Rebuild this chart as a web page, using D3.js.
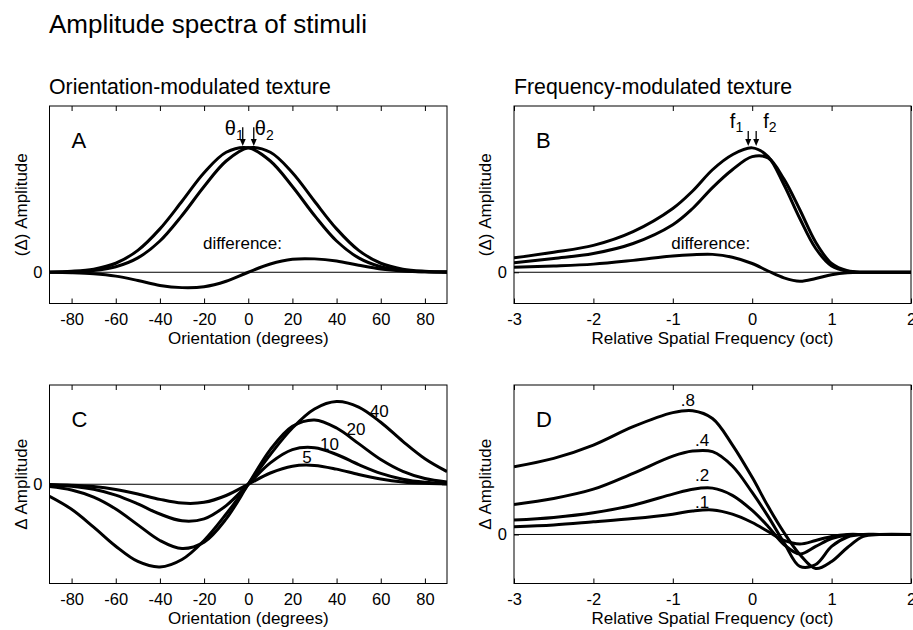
<!DOCTYPE html>
<html>
<head>
<meta charset="utf-8">
<script src="https://cdn.jsdelivr.net/npm/d3@7"></script>
<style>
  html, body { margin: 0; padding: 0; background: #fff; }
  svg { display: block; font-family: "Liberation Sans", Arial, Helvetica, sans-serif; }
  .domain { display: none; }
</style>
</head>
<body>
<svg id="chart" width="913" height="630"></svg>
<script>
// ---------------- DATA ----------------
// Panel A: orientation spectra (two stimuli) and their difference
const orientX = [-90,-80,-70,-60,-50,-40,-30,-20,-10,0,10,20,30,40,50,60,70,80,90];
const thetaCurve1 = [0.002,0.008,0.025,0.072,0.175,0.347,0.568,0.796,0.960,0.996,0.890,0.686,0.454,0.250,0.115,0.044,0.014,0.004,0.001];
const thetaCurve2 = [0.001,0.004,0.014,0.044,0.115,0.250,0.454,0.686,0.890,0.996,0.960,0.796,0.568,0.347,0.175,0.072,0.025,0.008,0.002];
const thetaDiff   = [-0.001,-0.004,-0.012,-0.031,-0.066,-0.106,-0.123,-0.116,-0.072,0,0.066,0.104,0.107,0.090,0.056,0.026,0.010,0.003,0.001];
const thetaMarks  = [-2.5, 2.5];

// Panel B: spatial-frequency spectra and their difference
const freqX = [-3,-2.5,-2,-1.5,-1,-0.75,-0.5,-0.25,0,0.2,0.4,0.6,0.8,1.0,1.2,1.4,1.6,2];
const freqCurve1 = [0.115,0.160,0.215,0.325,0.510,0.650,0.820,0.940,0.995,0.925,0.700,0.430,0.190,0.050,0.008,0,0,0];
const freqCurve2 = [0.075,0.110,0.150,0.230,0.380,0.510,0.677,0.820,0.925,0.915,0.745,0.500,0.240,0.070,0.012,0,0,0];
const freqDiff   = [0.040,0.050,0.065,0.095,0.130,0.140,0.143,0.120,0.070,0.010,-0.045,-0.072,-0.050,-0.020,-0.004,0,0,0];
const freqMarks  = [-0.05, 0.05];

// Panel C: orientation difference spectra for several orientation differences
const orientDiffLabels = ["5","10","20","40"];
const orientDiff5  = [-0.004,-0.011,-0.028,-0.063,-0.117,-0.181,-0.226,-0.217,-0.135,0,0.135,0.217,0.226,0.181,0.117,0.063,0.028,0.011,0.004];
const orientDiff10 = [-0.008,-0.024,-0.061,-0.131,-0.236,-0.357,-0.438,-0.415,-0.256,0,0.256,0.415,0.438,0.357,0.236,0.131,0.061,0.024,0.008];
const orientDiff20 = [-0.027,-0.069,-0.155,-0.297,-0.487,-0.674,-0.771,-0.694,-0.415,0,0.415,0.694,0.771,0.674,0.487,0.297,0.155,0.069,0.027];
const orientDiff40 = [-0.145,-0.300,-0.514,-0.743,-0.926,-0.991,-0.902,-0.674,-0.357,0,0.357,0.674,0.902,0.991,0.926,0.743,0.514,0.306,0.152];

// Panel D: frequency difference spectra for several frequency differences (oct)
const freqDiffLabels = [".1",".2",".4",".8"];
const freqDiff01 = [0.052,0.064,0.085,0.107,0.136,0.157,0.164,0.136,0.080,0.020,-0.040,-0.064,-0.040,-0.013,0,0,0,0];
const freqDiff02 = [0.096,0.114,0.145,0.196,0.270,0.303,0.310,0.262,0.161,0.054,-0.067,-0.131,-0.080,-0.027,-0.003,0,0,0];
const freqDiff04 = [0.201,0.241,0.303,0.409,0.524,0.558,0.554,0.458,0.281,0.121,-0.054,-0.214,-0.201,-0.080,-0.017,0,0,0];
const freqDiff08 = [0.453,0.509,0.598,0.721,0.815,0.828,0.776,0.600,0.382,0.188,0.013,-0.134,-0.228,-0.181,-0.087,-0.013,0,0];

// Ticks and texts
const orientTicks = [-80,-60,-40,-20,0,20,40,60,80];
const freqTicks = [-3,-2,-1,0,1,2];
const mainTitle = "Amplitude spectra of stimuli";
const colTitles = ["Orientation-modulated texture","Frequency-modulated texture"];
const xLabels = ["Orientation (degrees)","Relative Spatial Frequency (oct)"];
const yLabelsTop = "(\u0394) Amplitude";
const yLabelsBottom = "\u0394 Amplitude";

// ---------------- DRAWING ----------------
const svg = d3.select("#chart");
svg.append("rect").attr("width",913).attr("height",630).attr("fill","#fff");

const FS_TICK = 16.5, FS_LABEL = 17;
const fmt = d => String(d);   // plain hyphen-minus like the reference

svg.append("text").attr("x",49).attr("y",33).attr("font-size",26).text(mainTitle);
svg.append("text").attr("x",49).attr("y",94).attr("font-size",21.3).text(colTitles[0]);
svg.append("text").attr("x",514).attr("y",94).attr("font-size",21.3).text(colTitles[1]);

let clipId = 0;
function panel(box, xDomain, yDomain, xTicks, xLabel, yLabel, letter) {
  const x = d3.scaleLinear().domain(xDomain).range([box.x0, box.x1]);
  const y = d3.scaleLinear().domain(yDomain).range([box.y1, box.y0]);
  const g = svg.append("g");
  const id = "clip" + (clipId++);
  svg.append("clipPath").attr("id", id).append("rect")
    .attr("x", box.x0).attr("y", box.y0).attr("width", box.x1 - box.x0).attr("height", box.y1 - box.y0);

  // zero line
  g.append("line").attr("x1", box.x0).attr("x2", box.x1).attr("y1", y(0)).attr("y2", y(0))
    .attr("stroke","#000").attr("stroke-width",1);

  // bottom axis (ticks inward)
  const ax = g.append("g").attr("transform", `translate(0,${box.y1})`)
    .call(d3.axisBottom(x).tickValues(xTicks).tickSizeInner(-5).tickSizeOuter(0).tickPadding(10).tickFormat(fmt));
  ax.selectAll("text").attr("font-size", FS_TICK).attr("font-family","Liberation Sans, Arial, sans-serif").attr("fill","#000");
  ax.selectAll("line").attr("stroke","#000");
  // top axis ticks
  const at = g.append("g").attr("transform", `translate(0,${box.y0})`)
    .call(d3.axisTop(x).tickValues(xTicks).tickSizeInner(-5).tickSizeOuter(0).tickFormat(""));
  at.selectAll("line").attr("stroke","#000");
  // y ticks at zero (left / right)
  const al = g.append("g").attr("transform", `translate(${box.x0},0)`)
    .call(d3.axisLeft(y).tickValues([0]).tickSizeInner(-5).tickSizeOuter(0).tickPadding(7).tickFormat(fmt));
  al.selectAll("text").attr("font-size", FS_TICK).attr("font-family","Liberation Sans, Arial, sans-serif").attr("fill","#000");
  al.selectAll("line").attr("stroke","#000");
  const ar = g.append("g").attr("transform", `translate(${box.x1},0)`)
    .call(d3.axisRight(y).tickValues([0]).tickSizeInner(-5).tickSizeOuter(0).tickFormat(""));
  ar.selectAll("line").attr("stroke","#000");

  // box
  g.append("rect").attr("x", box.x0).attr("y", box.y0)
    .attr("width", box.x1 - box.x0).attr("height", box.y1 - box.y0)
    .attr("fill","none").attr("stroke","#000").attr("stroke-width",1);

  // axis labels
  g.append("text").attr("x", (box.x0 + box.x1) / 2).attr("y", box.y1 + 40)
    .attr("text-anchor","middle").attr("font-size", FS_LABEL).text(xLabel);
  g.append("text").attr("transform", `translate(${box.x0 - 23},${(box.y0 + box.y1) / 2}) rotate(-90)`)
    .attr("text-anchor","middle").attr("font-size", FS_LABEL).text(yLabel);

  // panel letter
  g.append("text").attr("x", box.x0 + 22).attr("y", box.y0 + 41.5).attr("font-size", 22).text(letter);

  const plot = svg.append("g").attr("clip-path", `url(#${id})`);
  return {x, y, g, plot};
}

function drawCurve(p, xs, ys) {
  const line = d3.line().x((d, i) => p.x(xs[i])).y(d => p.y(d)).curve(d3.curveCatmullRom.alpha(0.5));
  p.plot.append("path").datum(ys).attr("d", line)
    .attr("fill","none").attr("stroke","#000").attr("stroke-width",3).attr("stroke-linejoin","round");
}

function arrow(p, xv, yTop, yTip) {
  const xp = p.x(xv), y1 = p.y(yTop), y2 = p.y(yTip);
  p.g.append("line").attr("x1", xp).attr("x2", xp).attr("y1", y1).attr("y2", y2 - 5)
    .attr("stroke","#000").attr("stroke-width",1.3);
  p.g.append("path").attr("d", `M${xp - 3},${y2 - 7} L${xp + 3},${y2 - 7} L${xp},${y2} Z`).attr("fill","#000");
}

const boxA = {x0:49.5, x1:447, y0:106, y1:303.5};
const boxB = {x0:514, x1:911, y0:106, y1:303.5};
const boxC = {x0:49.5, x1:447, y0:385, y1:583.5};
const boxD = {x0:514, x1:911, y0:385, y1:583.5};

// Panel A
const pA = panel(boxA, [-90, 90], [-0.25, 1.33], orientTicks, xLabels[0], yLabelsTop, "A");
drawCurve(pA, orientX, thetaCurve1);
drawCurve(pA, orientX, thetaCurve2);
drawCurve(pA, orientX, thetaDiff);
arrow(pA, thetaMarks[0], 1.16, 1.01);
arrow(pA, thetaMarks[1], 1.16, 1.01);
{
  const t1 = pA.g.append("text").attr("x", pA.x(thetaMarks[0]) + 1).attr("y", pA.y(1.095))
    .attr("text-anchor","end").attr("font-size", 20);
  t1.append("tspan").text("\u03b8");
  t1.append("tspan").attr("font-size", 14).attr("dy", 5).text("1");
  const t2 = pA.g.append("text").attr("x", pA.x(thetaMarks[1]) + 1).attr("y", pA.y(1.095))
    .attr("text-anchor","start").attr("font-size", 20);
  t2.append("tspan").text("\u03b8");
  t2.append("tspan").attr("font-size", 14).attr("dy", 5).text("2");
  pA.g.append("text").attr("x", pA.x(-20.5)).attr("y", pA.y(0.19)).attr("font-size", 17).text("difference:");
}

// Panel B
const pB = panel(boxB, [-3, 2], [-0.25, 1.33], freqTicks, xLabels[1], yLabelsTop, "B");
drawCurve(pB, freqX, freqCurve1);
drawCurve(pB, freqX, freqCurve2);
drawCurve(pB, freqX, freqDiff);
arrow(pB, freqMarks[0], 1.13, 1.01);
arrow(pB, freqMarks[1], 1.13, 1.01);
{
  const t1 = pB.g.append("text").attr("x", pB.x(freqMarks[0]) - 5).attr("y", pB.y(1.155))
    .attr("text-anchor","end").attr("font-size", 20);
  t1.append("tspan").text("f");
  t1.append("tspan").attr("font-size", 14).attr("dy", 4).text("1");
  const t2 = pB.g.append("text").attr("x", pB.x(freqMarks[1]) + 7).attr("y", pB.y(1.155))
    .attr("text-anchor","start").attr("font-size", 20);
  t2.append("tspan").text("f");
  t2.append("tspan").attr("font-size", 14).attr("dy", 4).text("2");
  pB.g.append("text").attr("x", pB.x(-1.02)).attr("y", pB.y(0.19)).attr("font-size", 17).text("difference:");
}

// Panel C
const pC = panel(boxC, [-90, 90], [-1.19, 1.19], orientTicks, xLabels[0], yLabelsBottom, "C");
const cSeries = [orientDiff5, orientDiff10, orientDiff20, orientDiff40];
cSeries.forEach(s => drawCurve(pC, orientX, s));
const cLabelPos = [[24.5, 0.25], [32.5, 0.41], [44.5, 0.59], [55, 0.81]];
orientDiffLabels.forEach((lab, i) => {
  pC.g.append("text").attr("x", pC.x(cLabelPos[i][0])).attr("y", pC.y(cLabelPos[i][1]))
    .attr("font-size", 17).text(lab);
});

// Panel D
const pD = panel(boxD, [-3, 2], [-0.328, 1.0], freqTicks, xLabels[1], yLabelsBottom, "D");
const dSeries = [freqDiff01, freqDiff02, freqDiff04, freqDiff08];
dSeries.forEach(s => drawCurve(pD, freqX, s));
const dLabelPos = [[-0.72, 0.175], [-0.72, 0.36], [-0.72, 0.595], [-0.9, 0.86]];
freqDiffLabels.forEach((lab, i) => {
  pD.g.append("text").attr("x", pD.x(dLabelPos[i][0])).attr("y", pD.y(dLabelPos[i][1]))
    .attr("font-size", 17).text(lab);
});
</script>
</body>
</html>
